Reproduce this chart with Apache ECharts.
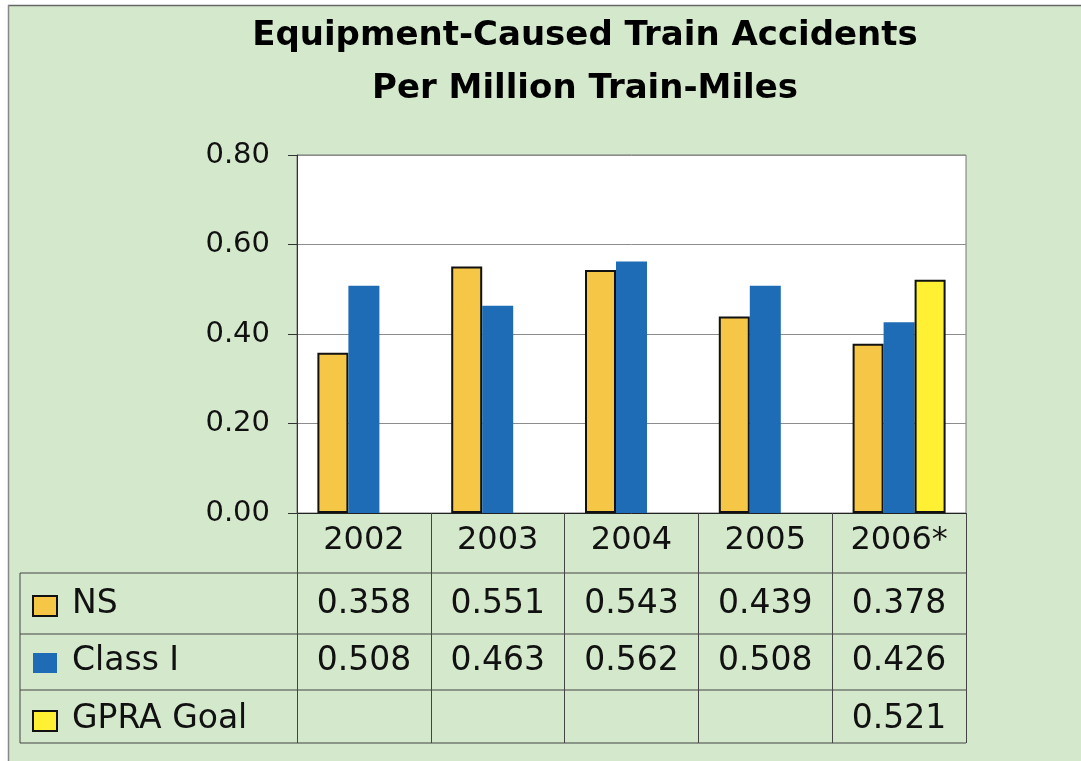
<!DOCTYPE html>
<html><head><meta charset="utf-8">
<script src="https://cdn.jsdelivr.net/npm/echarts@6/dist/echarts.min.js"></script>
<style>html,body{margin:0;padding:0;background:#fff}#c{width:1081px;height:761px}</style>
</head><body><div id="c"></div>
<script>
const years = ['2002', '2003', '2004', '2005', '2006*'];
const seriesNames = ['NS', 'Class I', 'GPRA Goal'];
const nsValues = [0.358, 0.551, 0.543, 0.439, 0.378];
const classIValues = [0.508, 0.463, 0.562, 0.508, 0.426];
const gpraValues = [null, null, null, null, 0.521];
const yMin = 0, yMax = 0.8, yStep = 0.2;

const FONT = 'DejaVu Sans';
const colors = ['#F6C646', '#1E6CB5', '#FFF033'];
const bordered = [true, false, true];
const allValues = [nsValues, classIValues, gpraValues];

const chart = echarts.init(document.getElementById('c'), null, {renderer: 'canvas'});
chart.setOption({
  backgroundColor: '#d4e8cc',
  animation: false,
  title: {
    text: 'Equipment-Caused Train Accidents\nPer Million Train-Miles',
    left: 580, top: 5, textAlign: 'center',
    textStyle: {fontFamily: FONT, fontWeight: 'bold', fontSize: 34, lineHeight: 53, color: '#000'}
  },
  grid: {left: 297, top: 155, width: 669, height: 358, show: true, backgroundColor: '#ffffff',
         borderColor: '#777', borderWidth: 1, containLabel: false, outerBoundsMode: 'none'},
  xAxis: {
    type: 'category', data: years,
    axisLine: {show: true, lineStyle: {color: '#222', width: 1}},
    axisTick: {show: true, length: 230, lineStyle: {color: '#444', width: 1}},
    axisLabel: {fontFamily: FONT, fontSize: 32, color: '#111', margin: 12},
    splitLine: {show: false}
  },
  yAxis: {
    type: 'value', min: yMin, max: yMax, interval: yStep,
    axisLine: {show: true, lineStyle: {color: '#333', width: 1}},
    axisTick: {show: true, length: 9, lineStyle: {color: '#333'}},
    splitLine: {show: true, lineStyle: {color: '#8c8c8c', width: 1}},
    axisLabel: {fontFamily: FONT, fontSize: 29, color: '#111', margin: 27, formatter: v => v.toFixed(2)}
  },
  series: seriesNames.map((name, k) => ({
    name: name, type: 'bar', data: allValues[k], barWidth: 31, barGap: '0%',
    itemStyle: bordered[k] ? {color: colors[k], borderColor: '#111', borderWidth: 2} : {color: colors[k]}
  }))
});

// data table below the plot
const cx = years.map((y, i) => chart.convertToPixel({xAxisIndex: 0}, i));
const rowY = [604, 661, 719];
const lineYs = [573, 634, 690, 743];
const g = [];
// outer frame edges
g.push({type: 'rect', shape: {x: 0, y: 0, width: 1081, height: 5}, style: {fill: '#fff'}, silent: true});
g.push({type: 'rect', shape: {x: 0, y: 0, width: 8, height: 761}, style: {fill: '#fff'}, silent: true});
g.push({type: 'line', shape: {x1: 8, y1: 5.5, x2: 1081, y2: 5.5}, style: {stroke: '#666', lineWidth: 1.5}, silent: true});
g.push({type: 'line', shape: {x1: 8.5, y1: 5, x2: 8.5, y2: 761}, style: {stroke: '#888', lineWidth: 1.5}, silent: true});
lineYs.forEach(y => g.push({type: 'line', shape: {x1: 20, y1: y, x2: 966, y2: y},
  style: {stroke: '#444', lineWidth: 1}, silent: true}));
g.push({type: 'line', shape: {x1: 20, y1: lineYs[0], x2: 20, y2: lineYs[3]},
  style: {stroke: '#444', lineWidth: 1}, silent: true});
seriesNames.forEach((name, r) => {
  g.push({type: 'rect', shape: {x: 33, y: rowY[r] - 8, width: 24, height: 20},
    style: bordered[r] ? {fill: colors[r], stroke: '#111', lineWidth: 2} : {fill: colors[r]}, silent: true});
  g.push({type: 'text', style: {text: name, x: 72, y: rowY[r], textAlign: 'left', textVerticalAlign: 'middle',
    fontFamily: FONT, fontSize: 33, fill: '#111'}, silent: true});
  allValues[r].forEach((v, i) => {
    if (v == null) return;
    g.push({type: 'text', style: {text: v.toFixed(3), x: cx[i], y: rowY[r], textAlign: 'center',
      textVerticalAlign: 'middle', fontFamily: FONT, fontSize: 33, fill: '#111'}, silent: true});
  });
});
chart.setOption({graphic: g});
</script></body></html>
